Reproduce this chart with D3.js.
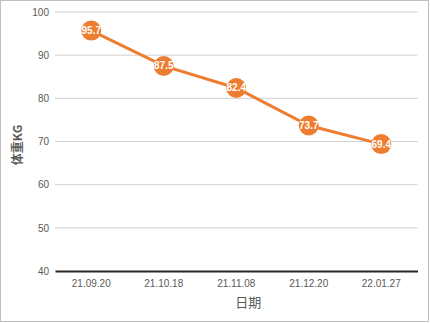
<!DOCTYPE html>
<html lang="zh">
<head>
  <meta charset="UTF-8">
  <title>体重</title>
  <style>
    body { margin: 0; background: #fff; }
    svg { display: block; }
    .tick text { fill: #595959; font: 10px "Liberation Sans", Arial, sans-serif; }
  </style>
  <script src="https://d3js.org/d3.v7.min.js"></script>
</head>
<body>
  <div id="chart"></div>
  <script>
    const dates = ["21.09.20", "21.10.18", "21.11.08", "21.12.20", "22.01.27"];
    const weights = [95.7, 87.5, 82.4, 73.7, 69.4];
    const yTicks = [40, 50, 60, 70, 80, 90, 100];

    const width = 430, height = 323;
    const svg = d3.select("#chart").append("svg")
      .attr("width", width)
      .attr("height", height);

    // outer frame
    svg.append("rect")
      .attr("x", 0.5).attr("y", 0.5)
      .attr("width", width - 2).attr("height", height - 2)
      .attr("fill", "#fff")
      .attr("stroke", "#bfbfbf");

    const x = d3.scaleBand()
      .domain(dates)
      .range([55, 417.5]);

    const y = d3.scaleLinear()
      .domain([40, 100])
      .range([271, 12]);

    // gridlines
    svg.append("g")
      .selectAll("line")
      .data(yTicks.filter(d => d > 40))
      .enter()
      .append("line")
      .attr("x1", 55).attr("x2", 417.5)
      .attr("y1", d => y(d)).attr("y2", d => y(d))
      .attr("stroke", "#d0d0d0")
      .attr("stroke-width", 1);

    // y axis labels
    svg.append("g")
      .attr("transform", "translate(55, 0)")
      .call(d3.axisLeft(y).tickValues(yTicks).tickSize(0).tickPadding(6))
      .call(g => g.select(".domain").remove());

    // x axis
    svg.append("g")
      .attr("transform", `translate(0, ${y(40)})`)
      .call(d3.axisBottom(x).tickSize(0).tickPadding(9))
      .call(g => g.select(".domain")
        .attr("stroke", "#262626")
        .attr("stroke-width", 2));

    // axis titles
    svg.append("text")
      .attr("transform", `translate(22, 145) rotate(-90)`)
      .attr("text-anchor", "middle")
      .attr("font-family", "'Noto Sans CJK SC', sans-serif")
      .attr("font-size", 12)
      .attr("font-weight", "bold")
      .attr("fill", "#595959")
      .text("体重KG");

    svg.append("text")
      .attr("x", x(dates[2]) + x.bandwidth() / 2 + 12)
      .attr("y", 307)
      .attr("text-anchor", "middle")
      .attr("font-family", "'Noto Sans CJK SC', sans-serif")
      .attr("font-size", 13)
      .attr("fill", "#595959")
      .text("日期");

    const cx = d => x(d) + x.bandwidth() / 2;

    const line = d3.line()
      .x((d, i) => cx(dates[i]))
      .y(d => y(d));

    svg.append("path")
      .datum(weights)
      .attr("d", line)
      .attr("fill", "none")
      .attr("stroke", "#ed7d31")
      .attr("stroke-width", 3);

    svg.append("g")
      .selectAll("circle")
      .data(weights)
      .enter()
      .append("circle")
      .attr("cx", (d, i) => cx(dates[i]))
      .attr("cy", d => y(d))
      .attr("r", 10)
      .attr("fill", "#ed7d31");

    svg.append("g")
      .selectAll("text")
      .data(weights)
      .enter()
      .append("text")
      .attr("x", (d, i) => cx(dates[i]))
      .attr("y", d => y(d) + 3.5)
      .attr("text-anchor", "middle")
      .attr("font-family", "'Liberation Sans', Arial, sans-serif")
      .attr("font-size", 10)
      .attr("font-weight", "bold")
      .attr("fill", "#fff")
      .text(d => d);
  </script>
</body>
</html>
